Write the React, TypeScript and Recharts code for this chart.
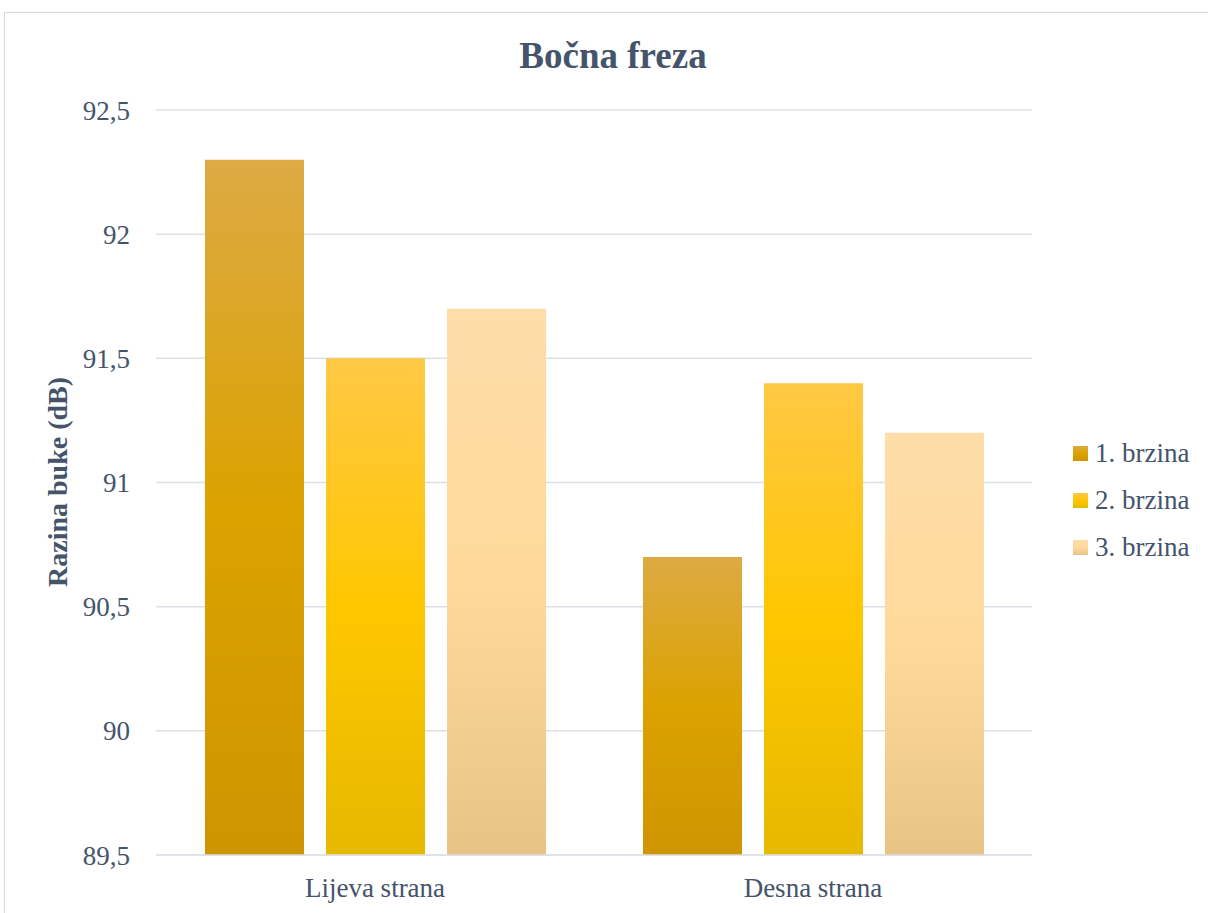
import React from 'react'
import { Bar, BarChart, CartesianGrid, XAxis, YAxis } from 'recharts'

const categories = ['Lijeva strana', 'Desna strana']
const brzina1 = [92.3, 90.7]
const brzina2 = [91.5, 91.4]
const brzina3 = [91.7, 91.2]
const seriesNames = ['1. brzina', '2. brzina', '3. brzina']
const yTicks = [89.5, 90, 90.5, 91, 91.5, 92, 92.5]

// top / middle / bottom of each bar's gradient
const gradients = [
  ['#DDAA44', '#DBA200', '#CF9500'],
  ['#FFC845', '#FFC700', '#E6B800'],
  ['#FEDDA8', '#FFD99B', '#E7C486'],
]

const FONT = '"Liberation Serif", "Times New Roman", serif'
const TEXT = '#44546A'
const GRID = '#DCE0E6'

const data = categories.map((c, i) => ({ name: c, b1: brzina1[i], b2: brzina2[i], b3: brzina3[i] }))
const keys = ['b1', 'b2', 'b3']

const fmt = (v: number) => String(v).replace('.', ',')

function GradDefs({ prefix }: { prefix: string }) {
  return (
    <defs>
      {gradients.map((g, i) => (
        <linearGradient key={i} id={`${prefix}${i}`} x1="0" y1="0" x2="0" y2="1">
          <stop offset="0%" stopColor={g[0]} />
          <stop offset="50%" stopColor={g[1]} />
          <stop offset="100%" stopColor={g[2]} />
        </linearGradient>
      ))}
    </defs>
  )
}

export default function App() {
  return (
    <div>
      <div
        style={{
          position: 'fixed',
          left: 4,
          top: 12,
          width: 1220,
          height: 920,
          border: '1px solid #D9D9D9',
          background: '#fff',
        }}
      >
        <div style={{ position: 'absolute', left: 0, top: 0 }}>
          <BarChart
            width={1210}
            height={905}
            data={data}
            margin={{ top: 97, right: 183, bottom: 0, left: 0 }}
            barSize={99}
            barGap={22}
          >
            <GradDefs prefix="bg" />
            <CartesianGrid vertical={false} stroke={GRID} strokeWidth={1.5} />
            <XAxis
              dataKey="name"
              height={63}
              axisLine={{ stroke: GRID, strokeWidth: 1.5 }}
              tickLine={false}
              tickSize={0}
              tickMargin={23}
              tick={{ fill: TEXT, fontSize: 27, fontFamily: FONT }}
            />
            <YAxis
              width={151}
              domain={[89.5, 92.5]}
              ticks={yTicks}
              tickFormatter={fmt}
              axisLine={false}
              tickLine={false}
              tickSize={0}
              tickMargin={26}
              tick={{ fill: TEXT, fontSize: 27, fontFamily: FONT }}
            />
            {keys.map((k, i) => (
              <Bar key={k} dataKey={k} name={seriesNames[i]} fill={`url(#bg${i})`} isAnimationActive={false} />
            ))}
          </BarChart>
        </div>
      </div>
      <svg
        width={1208}
        height={913}
        style={{ position: 'fixed', left: 0, top: 0, pointerEvents: 'none' }}
      >
        <GradDefs prefix="lg" />
        <text x={613} y={68} textAnchor="middle" fontFamily={FONT} fontSize={37} fontWeight="bold" fill={TEXT}>
          Bočna freza
        </text>
        <text
          x={67}
          y={482}
          transform="rotate(-90 67 482)"
          textAnchor="middle"
          fontFamily={FONT}
          fontSize={28}
          fontWeight="bold"
          fill={TEXT}
        >
          Razina buke (dB)
        </text>
        {seriesNames.map((n, i) => (
          <g key={n}>
            <rect x={1073} y={446 + i * 47} width={15} height={15} fill={`url(#lg${i})`} />
            <text x={1095} y={462 + i * 47} fontFamily={FONT} fontSize={27} fill={TEXT}>
              {n}
            </text>
          </g>
        ))}
      </svg>
    </div>
  )
}
